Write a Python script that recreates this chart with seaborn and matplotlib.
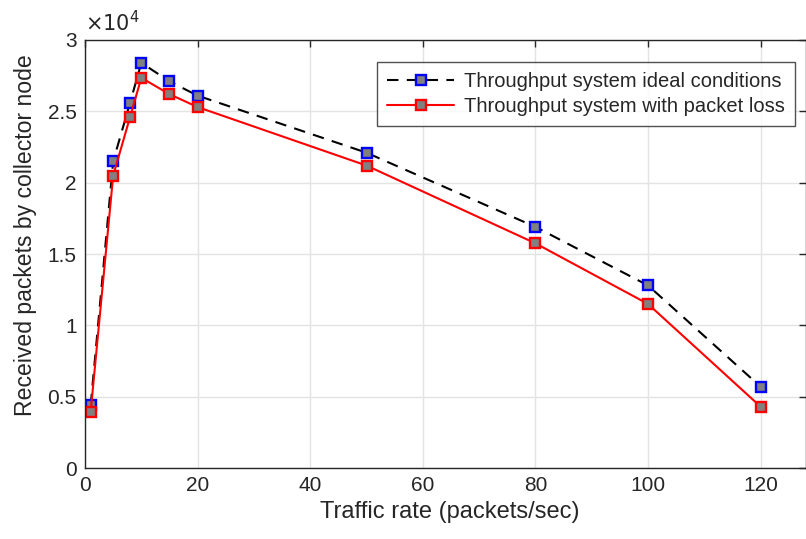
import numpy as np
import pandas as pd
import seaborn as sns
import matplotlib
matplotlib.use('Agg')
import matplotlib.pyplot as plt
from matplotlib.ticker import FuncFormatter

# traffic rates and received packets
traffic_rate = [1, 5, 8, 10, 15, 20, 50, 80, 100, 120]
ideal_pkts = [4400, 21500, 25600, 28400, 27100, 26100, 22100, 16900, 12800, 5700]
loss_pkts = [3950, 20500, 24600, 27350, 26200, 25300, 21200, 15750, 11500, 4300]

label_ideal = 'Throughput system ideal conditions'
label_loss = 'Throughput system with packet loss'

df = pd.DataFrame({'rate': traffic_rate, 'ideal': ideal_pkts, 'loss': loss_pkts})

sns.set_style('white')
plt.rcParams['font.family'] = ['Liberation Sans', 'DejaVu Sans']

fig = plt.figure(figsize=(8.06, 5.39), dpi=100)
ax = fig.add_axes([0.1055, 0.1317, 0.894, 0.7941])

sns.lineplot(data=df, x='rate', y='ideal', ax=ax, sort=False, color='black',
             linewidth=1.5, marker='s', markersize=7,
             markerfacecolor='#808080', markeredgecolor='blue', markeredgewidth=1.7,
             label=label_ideal)
ax.lines[-1].set_linestyle((0, (5.5, 4)))
sns.lineplot(data=df, x='rate', y='loss', ax=ax, sort=False, color='red',
             linewidth=1.5, marker='s', markersize=7,
             markerfacecolor='#808080', markeredgecolor='red', markeredgewidth=1.7,
             label=label_loss)

ax.set_xlim(0, 128)
ax.set_ylim(0, 30000)
ax.set_xticks(np.arange(0, 121, 20))
ax.set_yticks(np.arange(0, 30001, 5000))
ax.yaxis.set_major_formatter(FuncFormatter(lambda v, p: f'{v / 1e4:g}'))
ax.grid(True, color='#e3e3e3', linewidth=1)
ax.set_axisbelow(True)

for s in ax.spines.values():
    s.set_color('#262626')
    s.set_linewidth(1)
ax.tick_params(direction='in', length=5, width=1, color='#262626',
               labelsize=15, labelcolor='#262626', top=True, right=True, pad=6)

ax.set_xlabel('Traffic rate (packets/sec)', fontsize=17, color='#262626')
ax.set_ylabel('Received packets by collector node', fontsize=16.6, color='#262626')
ax.xaxis.set_label_coords(0.506, -0.077)
ax.yaxis.set_label_coords(-0.067, 0.545)
ax.text(0, 1.012, r'$\times10^4$', transform=ax.transAxes, fontsize=15,
        color='#262626', ha='left', va='bottom', family='DejaVu Sans')

leg = ax.legend(loc='upper right', bbox_to_anchor=(0.985, 0.949), fontsize=14.5,
                frameon=True, fancybox=False, edgecolor='#262626', borderaxespad=0,
                handlelength=3.3, borderpad=0.5, labelspacing=0.3, handletextpad=0.5)
leg.get_frame().set_linewidth(1)

fig.savefig('out.png', dpi=100)
